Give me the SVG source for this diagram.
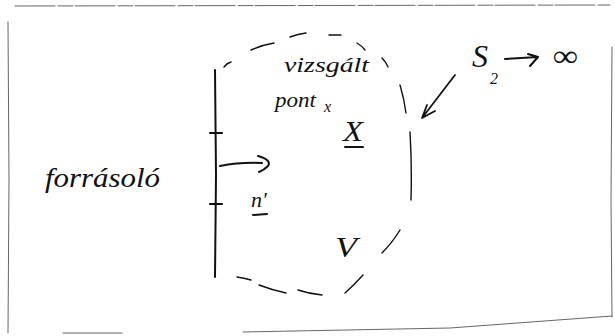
<svg xmlns="http://www.w3.org/2000/svg" width="615" height="336" viewBox="0 0 615 336">
<style>
.hand{font-family:"Liberation Serif","DejaVu Serif",serif;font-style:italic;fill:#111}
.ink{fill:none;stroke:#111;stroke-linecap:round;stroke-linejoin:round}
.dash{fill:none;stroke:#111;stroke-width:1.4;stroke-linecap:round}
.frame{fill:none;stroke:#666;stroke-width:1;stroke-linecap:round}
</style>
<rect width="615" height="336" fill="#fff"/>
<g id="frame">
<path class="frame" d="M15,6 L610,5" stroke="#aaa" stroke-dasharray="40 3 15 2"/>
<path class="frame" d="M8,22 L9,180 L8,333"/>
<path class="frame" d="M612,47 L611,200 L612,317"/>
<path class="frame" d="M63,333 L122,333 M243,332 L450,328 L612,316"/>
</g>
<g id="source-label">
<text class="hand" x="45" y="187" font-size="28" textLength="115" lengthAdjust="spacingAndGlyphs">forrásoló</text>
</g>
<g id="boundary">
<path class="ink" stroke-width="2" d="M215,70 L216,175 L215,277"/>
<path class="ink" stroke-width="2.2" d="M210,133 L222,133 M210,204 L222,204"/>
</g>
<g id="volume">
<path class="dash" d="M224,67 Q227,63 231,62 M251,50 Q262,45 274,43 M290,37 Q298,34 306,33 M329,35 L341,35 M357,43 Q362,46 365,50 M382,58 Q386,62 388,67 M400,85 Q404,98 406,113 M410,132 Q412,166 411,200 M400,230 Q392,243 382,253 M363,275 Q354,285 345,293 M322,295 Q310,294 298,290 M286,293 Q272,290 259,285 M251,280 Q244,278 237,277"/>
<text class="hand" x="284" y="72" font-size="22" textLength="85" lengthAdjust="spacingAndGlyphs">vizsgált</text>
<text class="hand" x="275" y="107" font-size="22" textLength="41" lengthAdjust="spacingAndGlyphs">pont</text>
<text class="hand" x="324" y="112" font-size="16">x</text>
<text class="hand" x="343" y="141" font-size="30" textLength="20" lengthAdjust="spacingAndGlyphs">X</text>
<path class="ink" stroke-width="2" d="M345,147 L363,147"/>
<text class="hand" x="335" y="257" font-size="30" textLength="22" lengthAdjust="spacingAndGlyphs">V</text>
</g>
<g id="normal-label">
<text class="hand" x="251" y="207" font-size="22">n'</text>
<path class="ink" stroke-width="2" d="M253,215 L267,214"/>
</g>
<g id="surface-label">
<text class="hand" x="472" y="67" font-size="32">S</text>
<text class="hand" x="490" y="84" font-size="16">2</text>
<text class="hand" x="553" y="66" font-size="30" textLength="25" lengthAdjust="spacingAndGlyphs">∞</text>
</g>
<g id="connectors">
<path class="ink" stroke-width="2" d="M220,166 Q240,162 262,163 M258,156 Q272,160 268,166 Q264,170 259,172"/>
<path class="ink" stroke-width="1.8" d="M455,75 L422,118 M427,105 L422,118 L435,111"/>
<path class="ink" stroke-width="2" d="M505,59 L538,57 M528,54 L538,57 L530,66"/>
</g>
</svg>
